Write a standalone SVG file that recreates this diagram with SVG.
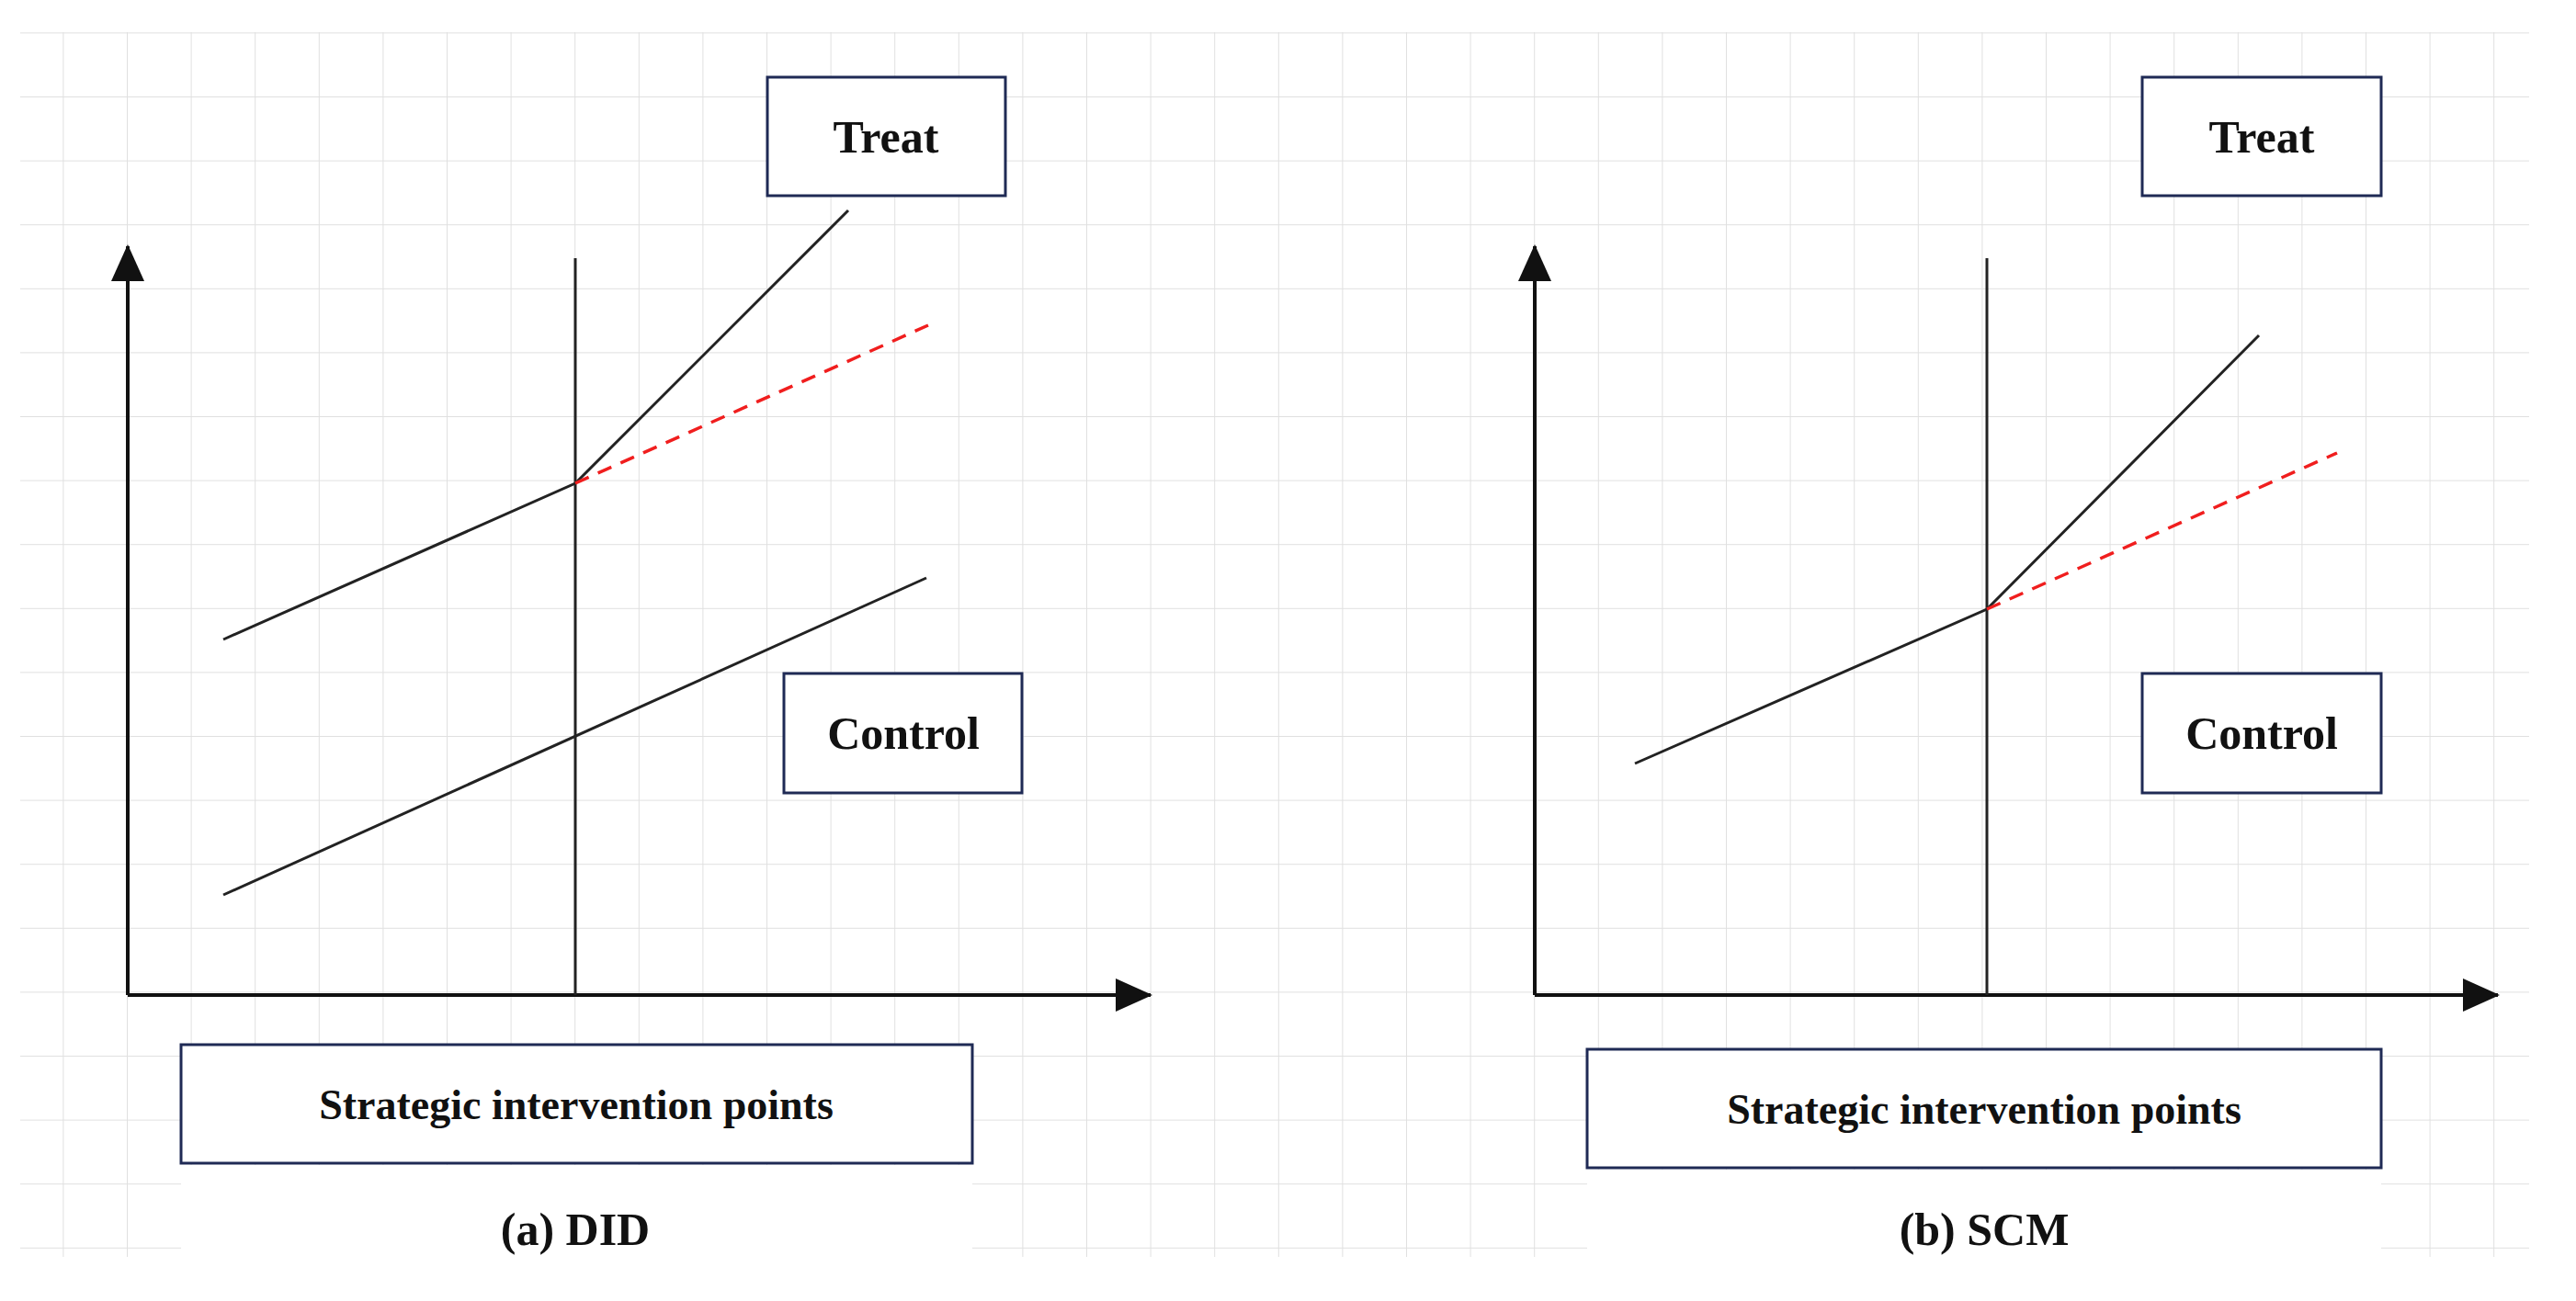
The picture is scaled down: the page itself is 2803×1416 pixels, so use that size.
<svg xmlns="http://www.w3.org/2000/svg" width="2803" height="1416" viewBox="0 0 2803 1416">
<style>
.box{fill:#fff;stroke:#1f2a55;stroke-width:3}
.lbl{font-family:"Liberation Serif",serif;font-weight:bold;fill:#111;text-anchor:middle}
.ln{stroke:#222;stroke-width:3;fill:none}
.ax{stroke:#111;stroke-width:4;fill:none}
.dash{stroke:#f01e1e;stroke-width:3.5;stroke-dasharray:16 11;fill:none}
</style>
<defs>
<pattern id="g" patternUnits="userSpaceOnUse" x="138" y="105" width="69.6" height="69.6">
<path d="M0 0H69.6M0 0V69.6" stroke="#e0e0e0" stroke-width="2" fill="none"/>
</pattern>
<marker id="ah" viewBox="0 0 10 10" refX="9" refY="5" markerWidth="10" markerHeight="10" markerUnits="userSpaceOnUse" orient="auto">
<path d="M0 0L10 5L0 10Z" fill="#111"/>
</marker>
<marker id="arr" viewBox="0 0 40 40" refX="38" refY="20" markerWidth="40" markerHeight="40" markerUnits="userSpaceOnUse" orient="auto">
<path d="M0 2L40 20L0 38Z" fill="#111"/>
</marker>
</defs>
<rect width="2803" height="1416" fill="#fff"/>
<rect x="22" y="35" width="2730" height="1333" fill="url(#g)"/>
<g id="connectors">
<path class="ax" d="M139 1083V268" marker-end="url(#arr)"/>
<path class="ax" d="M139 1083H1252" marker-end="url(#arr)"/>
<path class="ln" d="M626 281V1083"/>
<path class="ln" d="M243 696L626 526L923 229"/>
<path class="dash" d="M626 526L1010 354"/>
<path class="ln" d="M243 974L1008 629"/>
<path class="ax" d="M1670 1083V268" marker-end="url(#arr)"/>
<path class="ax" d="M1670 1083H2718" marker-end="url(#arr)"/>
<path class="ln" d="M2162 281V1083"/>
<path class="ln" d="M1779 831L2162 663L2458 365"/>
<path class="dash" d="M2162 663L2543 493"/>
</g>
<g id="treat-a"><rect class="box" x="835" y="84" width="259" height="129"/><text class="lbl" x="964" y="166" font-size="50">Treat</text></g>
<g id="control-a"><rect class="box" x="853" y="733" width="259" height="130"/><text class="lbl" x="983" y="815" font-size="50">Control</text></g>
<g id="sip-a"><rect class="box" x="197" y="1137" width="861" height="129"/><text class="lbl" x="627" y="1218" font-size="46">Strategic intervention points</text></g>
<g id="cap-a"><rect x="197" y="1268" width="861" height="110" fill="#fff"/><text class="lbl" x="626" y="1355" font-size="50">(a) DID</text></g>
<g id="treat-b"><rect class="box" x="2331" y="84" width="260" height="129"/><text class="lbl" x="2461" y="166" font-size="50">Treat</text></g>
<g id="control-b"><rect class="box" x="2331" y="733" width="260" height="130"/><text class="lbl" x="2461" y="815" font-size="50">Control</text></g>
<g id="sip-b"><rect class="box" x="1727" y="1142" width="864" height="129"/><text class="lbl" x="2159" y="1223" font-size="46">Strategic intervention points</text></g>
<g id="cap-b"><rect x="1727" y="1273" width="864" height="105" fill="#fff"/><text class="lbl" x="2159" y="1355" font-size="50">(b) SCM</text></g>
</svg>
